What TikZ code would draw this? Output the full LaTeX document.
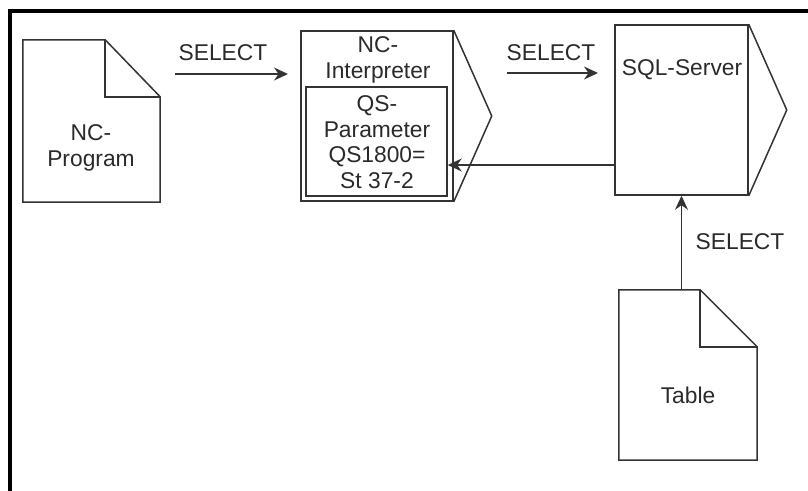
\documentclass[tikz,border=0pt]{standalone}
\usepackage{fontspec}
\setmainfont{Liberation Sans}
\usetikzlibrary{arrows.meta, positioning, calc}
\definecolor{linegray}{HTML}{333333}
\definecolor{textgray}{HTML}{2A2A2A}

\begin{document}
\begin{tikzpicture}[
    x=1pt, y=-1pt,
    box/.style={rectangle, inner sep=0pt},
    outline/.style={draw=linegray, line width=1.5pt, line join=miter},
    lbl/.style={font=\fontsize{22.8}{25.5}\selectfont, align=center, text=textgray, inner sep=0pt},
    flow/.style={-{Stealth[length=14pt, width=13pt]}, line width=1.5pt, draw=linegray},
]

\useasboundingbox (0,0) rectangle (808,490);

% Frame
\draw[line width=3.5pt, black] (10,492) -- (10,11) -- (810,11);

% NC program (document)
\node[box, minimum width=137, minimum height=162] (prog) at (91.5,121) {};
\draw[outline] (prog.north west) -- ($(prog.north east)+(-55,0)$) -- ($(prog.north east)+(0,57)$) -- (prog.south east) -- (prog.south west) -- cycle;
\draw[outline] ($(prog.north east)+(-55,0)$) |- ($(prog.north east)+(0,57)$);
\node[lbl] (progtxt) at (91,148) {NC-\\Program};

% NC interpreter with QS parameter
\node[box, outline, minimum width=152, minimum height=170] (interp) at (377,116) {};
\draw[outline] (interp.north east) -- ($(interp.east)+(38,0)$) -- (interp.south east);
\node[box, outline, minimum width=141, minimum height=109] (qspar) at (376.5,141.5) {};
\node[lbl] (interptxt) at (378,60) {NC-\\Interpreter};
\node[lbl] (qstxt) at (377,142) {QS-\\Parameter\\QS1800=\\St 37-2};

% SQL server
\node[box, outline, minimum width=133, minimum height=170] (sql) at (681.5,110) {};
\draw[outline] (sql.north east) -- ($(sql.east)+(38,0)$) -- (sql.south east);
\node[lbl] (sqltxt) at (682,70) {SQL-Server};

% Table (document)
\node[box, minimum width=138, minimum height=170] (table) at (688,375) {};
\draw[outline] (table.north west) -- ($(table.north east)+(-57,0)$) -- ($(table.north east)+(0,57)$) -- (table.south east) -- (table.south west) -- cycle;
\draw[outline] ($(table.north east)+(-57,0)$) |- ($(table.north east)+(0,57)$);
\node[lbl] (tabletxt) at (688,395) {Table};

% SELECT connectors
\coordinate (sel1a) at (175,74);
\coordinate (sel1b) at (288,74);
\draw[flow] (sel1a) -- (sel1b);
\node[lbl] (sel1) at (223,53) {SELECT};

\coordinate (sel2a) at (507,73);
\coordinate (sel2b) at (598,73);
\draw[flow] (sel2a) -- (sel2b);
\node[lbl] (sel2) at (551,53) {SELECT};

\coordinate (back) at ($(sql.west)+(0,55)$);
\draw[flow] (back) -- (qspar.east |- back);

\draw[flow] (sql.south |- table.north) -- (sql.south);
\node[lbl] (sel3) at (740,242) {SELECT};

\end{tikzpicture}
\end{document}
